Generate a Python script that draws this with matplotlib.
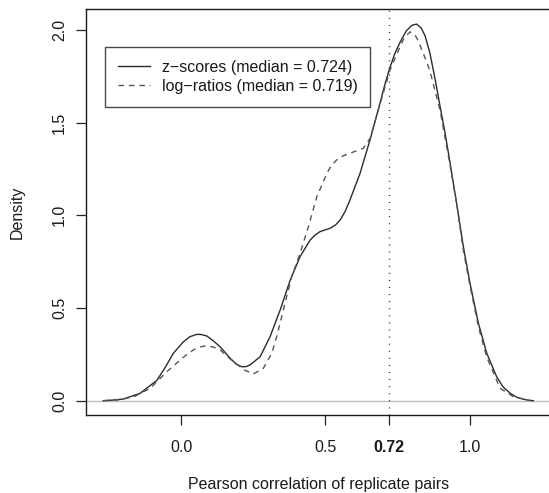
#!/usr/bin/env python
# -*- coding: utf-8 -*-
import matplotlib
matplotlib.use('Agg')
import matplotlib.pyplot as plt

OUTPUT_FILENAME = 'out.png'
X_AXIS_LABEL = "Pearson correlation of replicate pairs"
Y_AXIS_LABEL = "Density"

# density estimate of correlations computed from z-scores
ZSCORE_X = [-0.27, -0.24, -0.20, -0.142, -0.084, -0.055, -0.027, 0.008, 0.03,
            0.054, 0.07, 0.089, 0.11, 0.135, 0.170, 0.19, 0.210, 0.225, 0.239,
            0.274, 0.308, 0.343, 0.378, 0.412, 0.447, 0.465, 0.481, 0.50,
            0.516, 0.535, 0.551, 0.568, 0.585, 0.620, 0.655, 0.689, 0.707,
            0.724, 0.741, 0.759, 0.78, 0.799, 0.816, 0.832, 0.845, 0.862,
            0.880, 0.897, 0.915, 0.932, 0.955, 0.978, 1.001, 1.030, 1.059,
            1.093, 1.115, 1.140, 1.165, 1.197, 1.22]
ZSCORE_Y = [0.0, 0.003, 0.009, 0.04, 0.11, 0.18, 0.256, 0.318, 0.345,
            0.358, 0.357, 0.349, 0.325, 0.291, 0.229, 0.198, 0.183, 0.184, 0.193,
            0.238, 0.345, 0.489, 0.651, 0.777, 0.867, 0.895, 0.912, 0.922,
            0.930, 0.948, 0.975, 1.02, 1.083, 1.227, 1.41, 1.605, 1.712,
            1.80, 1.875, 1.935, 1.995, 2.025, 2.032, 2.01, 1.97, 1.875,
            1.735, 1.59, 1.44, 1.281, 1.06, 0.83, 0.633, 0.418, 0.256,
            0.130, 0.075, 0.040, 0.017, 0.004, 0.0]

# density estimate of correlations computed from log-ratios
LOGRATIO_X = [-0.27, -0.22, -0.165, -0.107, -0.05, -0.003, 0.02, 0.043, 0.065,
              0.089, 0.11, 0.135, 0.181, 0.22, 0.25, 0.285, 0.314, 0.331,
              0.354, 0.383, 0.412, 0.441, 0.470, 0.505, 0.52, 0.539, 0.56,
              0.585, 0.631, 0.655, 0.689, 0.724, 0.753, 0.772, 0.793, 0.81,
              0.822, 0.845, 0.862, 0.897, 0.932, 0.955, 0.978, 1.001, 1.030,
              1.059, 1.105, 1.151, 1.21]
LOGRATIO_Y = [0.0, 0.004, 0.02, 0.067, 0.156, 0.22, 0.25, 0.274, 0.29,
              0.297, 0.29, 0.274, 0.21, 0.165, 0.144, 0.175, 0.256, 0.345,
              0.489, 0.669, 0.795, 0.939, 1.100, 1.227, 1.268, 1.299, 1.32,
              1.335, 1.362, 1.416, 1.60, 1.785, 1.89, 1.955, 1.99, 1.975,
              1.94, 1.85, 1.78, 1.568, 1.27, 1.06, 0.81, 0.62, 0.40,
              0.235, 0.067, 0.022, 0.0]

ZSCORE_LABEL = "z\u2212scores (median = 0.724)"
LOGRATIO_LABEL = "log\u2212ratios (median = 0.719)"
MEDIAN = 0.72

X_TICKS = [0.0, 0.5, 0.72, 1.0]
X_TICK_LABELS = ["0.0", "0.5", "0.72", "1.0"]
Y_TICKS = [0.0, 0.5, 1.0, 1.5, 2.0]
Y_TICK_LABELS = ["0.0", "0.5", "1.0", "1.5", "2.0"]

FONT_SIZE = 11.5
W, H = 549.0, 493.0


def main():
    plt.rcParams['font.family'] = ['Liberation Sans', 'DejaVu Sans']
    fig = plt.figure(figsize=(W / 100, H / 100), dpi=100)
    # plot region in pixels: left 86, right 551 (just off the canvas), top 9, bottom 415
    ax = fig.add_axes([86 / W, 1 - 415 / H, (551 - 86) / W, (415 - 9.3) / H])

    ax.axhline(0, color='#bdbdbd', linewidth=1.0, zorder=1)
    ax.axvline(MEDIAN, color='#222222', linewidth=1.0, dashes=(0.7, 4.4), zorder=2)

    ax.plot(ZSCORE_X, ZSCORE_Y, color='#2b2b2b', linewidth=1.0,
            label=ZSCORE_LABEL, zorder=3)
    ax.plot(LOGRATIO_X, LOGRATIO_Y, color='#555555', linewidth=1.0,
            dashes=(4, 3.5), label=LOGRATIO_LABEL, zorder=3)

    ax.set_xlim(-0.3297, 1.2816)
    ax.set_ylim(-0.0772, 2.1117)

    ax.set_xticks(X_TICKS)
    ax.set_xticklabels(X_TICK_LABELS)
    ax.get_xticklabels()[2].set_fontweight('bold')
    ax.set_yticks(Y_TICKS)
    ax.set_yticklabels(Y_TICK_LABELS, rotation=90, va='center')
    ax.tick_params(axis='both', direction='out', length=7.2, width=0.9,
                   color='#222222', labelsize=FONT_SIZE, labelcolor='#1a1a1a')
    ax.tick_params(axis='x', pad=11.0)
    ax.tick_params(axis='y', pad=6.5)

    for side in ['left', 'top', 'bottom', 'right']:
        ax.spines[side].set_linewidth(1.0)
        ax.spines[side].set_color('#1a1a1a')

    leg = ax.legend(loc='upper left', bbox_to_anchor=(105 / W, 1 - 47 / H),
                    bbox_transform=fig.transFigure, fontsize=FONT_SIZE,
                    frameon=True, fancybox=False, handlelength=2.0,
                    handletextpad=0.75, borderpad=0.8, labelspacing=0.25,
                    borderaxespad=0.0)
    leg.get_frame().set_edgecolor('#1a1a1a')
    leg.get_frame().set_linewidth(1.0)
    for text in leg.get_texts():
        text.set_color('#1a1a1a')

    fig.text(319 / W, 1 - 485 / H, X_AXIS_LABEL, ha='center', va='center',
             fontsize=FONT_SIZE, color='#1a1a1a')
    fig.text(17.5 / W, 1 - 212 / H, Y_AXIS_LABEL, ha='center', va='center',
             rotation=90, fontsize=FONT_SIZE, color='#1a1a1a')

    fig.savefig(OUTPUT_FILENAME, dpi=100)
    plt.close(fig)


if __name__ == '__main__':
    main()
